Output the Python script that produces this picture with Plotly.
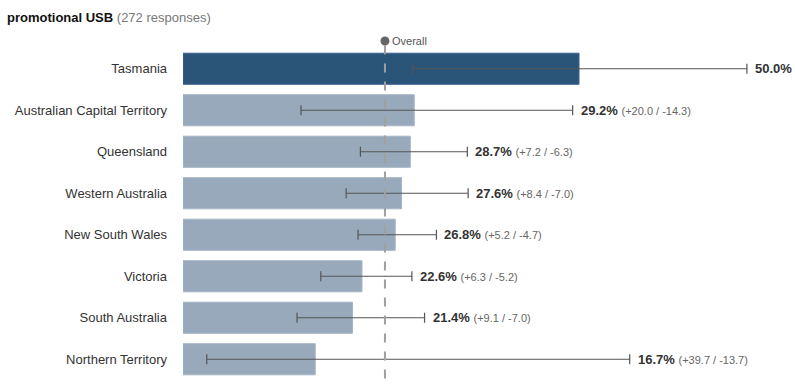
import plotly.graph_objects as go

categories = ["Tasmania", "Australian Capital Territory", "Queensland", "Western Australia",
              "New South Wales", "Victoria", "South Australia", "Northern Territory"]
values = [50.0, 29.2, 28.7, 27.6, 26.8, 22.6, 21.4, 16.7]
err_plus = [21.2, 20.0, 7.2, 8.4, 5.2, 6.3, 9.1, 39.7]
err_minus = [21.0, 14.3, 6.3, 7.0, 4.7, 5.2, 7.0, 13.7]
overall = 25.5
title_main = "promotional USB"
title_sub = "(272 responses)"

W, H = 795, 386
L, R, T, B = 183, 0, 48, 6
px_per_pct = 7.92
xmax = (W - L - R) / px_per_pct
PH = H - T - B
FONT = "Liberation Sans, Arial"

colors = ["#2b5479" if i == 0 else "#97a9bb" for i in range(len(categories))]
line_colors = ["#3a6590" if i == 0 else "#a6b6c6" for i in range(len(categories))]

fig = go.Figure()
fig.add_trace(go.Bar(
    x=values, y=categories, orientation="h",
    marker=dict(color=colors, line=dict(color=line_colors, width=1)),
    width=0.75,
    error_x=dict(type="data", symmetric=False, array=err_plus, arrayminus=err_minus,
                 color="#555555", thickness=1.2, width=5),
    hoverinfo="skip",
))

for c, v, p, m in zip(categories, values, err_plus, err_minus):
    fig.add_annotation(
        x=v + p, y=c, xref="x", yref="y", xanchor="left", yanchor="middle",
        xshift=6, showarrow=False,
        text=f"<b>{v:.1f}%</b> <span style='font-size:11px;color:#666666'>(+{p:.1f} / -{m:.1f})</span>",
        font=dict(size=13, color="#333333", family=FONT),
    )

# overall dashed line and marker
marker_y = 1 + (T - 41) / PH
fig.add_shape(type="line", x0=overall, x1=overall, xref="x", yref="paper",
              y0=-0.05, y1=1 + (T - 45) / PH,
              line=dict(color="#a0a0a0", width=2, dash="dash"), layer="above")
fig.add_shape(type="circle", xref="x", yref="paper", xsizemode="pixel", ysizemode="pixel",
              xanchor=overall, yanchor=marker_y, x0=-4.5, x1=4.5, y0=-4.5, y1=4.5,
              fillcolor="#666666", line=dict(color="#666666", width=0), layer="above")
fig.add_annotation(x=overall, y=marker_y, xref="x", yref="paper", xanchor="left", yanchor="middle",
                   xshift=5, showarrow=False, text="Overall",
                   font=dict(size=11, color="#555555", family=FONT))

fig.add_annotation(x=(5 - L) / (W - L - R), y=1 + (T - 18) / PH, xref="paper", yref="paper",
                   showarrow=False, xanchor="left", yanchor="middle",
                   text=f"<b>{title_main}</b> <span style='color:#777777'>{title_sub}</span>",
                   font=dict(size=13, color="#111111", family=FONT))

fig.update_layout(
    width=W, height=H, margin=dict(l=L, r=R, t=T, b=B, autoexpand=False),
    plot_bgcolor="white", paper_bgcolor="white", showlegend=False,
    font=dict(family=FONT, size=13, color="#333333"),
    xaxis=dict(range=[0, xmax], visible=False, fixedrange=True),
    yaxis=dict(autorange="reversed", showgrid=False, zeroline=False, showline=False,
               ticks="", ticklabelstandoff=15, tickfont=dict(size=13, color="#333333")),
)

fig.write_html("out.html", config={"displayModeBar": False},
               post_script="document.body.style.margin='0';document.body.style.overflow='hidden';")
